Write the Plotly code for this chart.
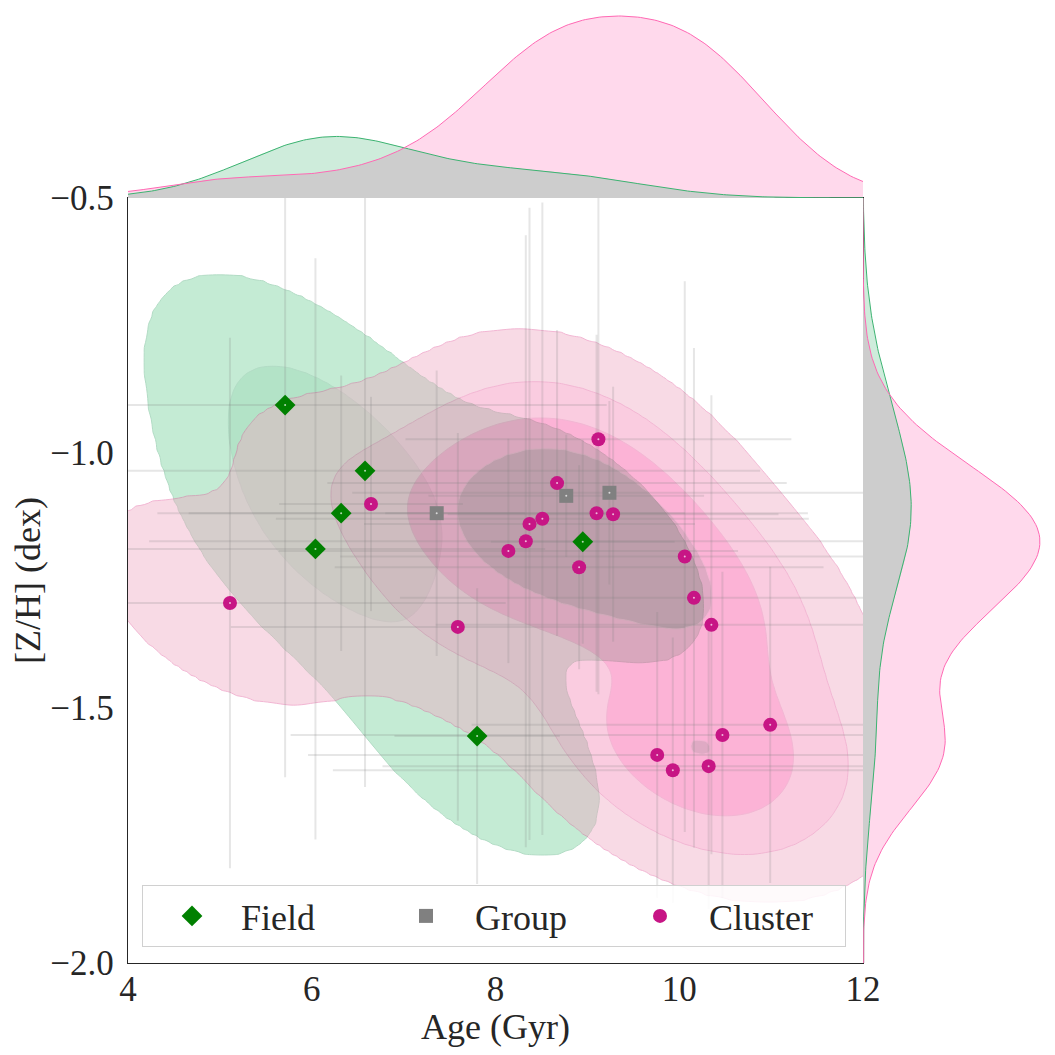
import numpy as np
import plotly.graph_objects as go

# ---------------- data ----------------
field_age = [5.71, 6.58, 6.32, 6.04, 8.95, 7.80]
field_zh = [-0.906, -1.035, -1.118, -1.188, -1.174, -1.555]
field_age_err = [3.5, 4.3, 2.0, 2.5, 1.0, 0.9]
field_zh_err = [0.73, 0.62, 0.27, 0.57, 0.20, 0.29]

group_age = [7.36, 8.77, 9.24]
group_zh = [-1.118, -1.084, -1.078]
group_age_err = [2.7, 1.5, 2.8]
group_zh_err = [0.28, 0.12, 0.18]

cluster_age = [5.11, 6.645, 7.59, 8.14, 8.33, 8.37, 8.51, 8.67, 8.91, 9.12,
               9.10, 9.28, 10.06, 10.16, 10.35, 9.76, 9.93, 10.32, 10.47, 10.99]
cluster_zh = [-1.294, -1.100, -1.341, -1.192, -1.173, -1.139, -1.129, -1.059, -1.224, -0.973,
              -1.118, -1.120, -1.203, -1.284, -1.337, -1.592, -1.622, -1.614, -1.553, -1.533]
cluster_age_err = [3.0, 1.0, 2.47, 2.5, 4.1, 1.8, 2.9, 2.5, 2.66, 2.1,
                   2.3, 1.8, 3.75, 3.2, 3.0, 3.8, 3.7, 3.55, 4.7, 3.25]
cluster_zh_err = [0.52, 0.21, 0.38, 0.22, 0.60, 0.62, 0.62, 0.30, 0.20, 0.50,
                  0.35, 0.25, 0.54, 0.49, 0.45, 0.28, 0.26, 0.28, 0.32, 0.31]

x_ticks = [4, 6, 8, 10, 12]
y_ticks = [-2.0, -1.5, -1.0, -0.5]

FONT = "Liberation Serif"
INK = "#262626"

# ---------------- KDE helpers ----------------
def kde2d(x, y, gx, gy, adjust=1.0):
    data = np.vstack([x, y])
    n = data.shape[1]
    f = n ** (-1.0 / 6) * adjust
    cov = np.cov(data) * f ** 2
    inv = np.linalg.inv(cov)
    norm = 1.0 / (2 * np.pi * np.sqrt(np.linalg.det(cov)) * n)
    X, Y = np.meshgrid(gx, gy)
    dx = X[..., None] - data[0]
    dy = Y[..., None] - data[1]
    q = inv[0, 0] * dx * dx + 2 * inv[0, 1] * dx * dy + inv[1, 1] * dy * dy
    return norm * np.exp(-0.5 * q).sum(-1)


def kde1d(x, g, adjust=1.0):
    x = np.asarray(x, float)
    n = len(x)
    bw = np.std(x, ddof=1) * n ** (-0.2) * adjust
    return np.exp(-0.5 * ((g[:, None] - x) / bw) ** 2).sum(1) / (n * bw * np.sqrt(2 * np.pi))


def quantile_to_level(arrs, isoprop):
    values = np.concatenate([a.ravel() for a in arrs])
    sv = np.sort(values)[::-1]
    nv = np.cumsum(sv) / values.sum()
    idx = np.searchsorted(nv, 1 - np.asarray(isoprop))
    return np.take(sv, idx, mode="clip")


n_f, n_c = len(field_age), len(cluster_age)
N = n_f + n_c
gx = np.linspace(2.0, 14.0, 260)
gy = np.linspace(-2.6, 0.0, 260)
dens_f = kde2d(field_age, field_zh, gx, gy) * n_f / N
dens_c = kde2d(cluster_age, cluster_zh, gx, gy) * n_c / N
levels = quantile_to_level([dens_f, dens_c], np.linspace(0.05, 1, 5))
top = max(dens_f.max(), dens_c.max()) * 1.001


def band_index(d):
    xp = np.concatenate([[0.0], levels[:-1], [top]])
    fp = np.arange(-1, len(levels))
    return np.interp(d, xp, fp)


nlev = len(levels) - 1
pink_bands = ["rgb(240,167,194)", "rgb(245,133,182)", "rgb(248,72,157)", "rgb(180,51,113)"]
green_bands = ["rgb(114,209,153)", "rgb(72,189,121)", "rgb(50,160,100)", "rgb(30,120,70)"]


def cscale(cols):
    cs = [[0.0, "rgba(255,255,255,0)"]]
    for i, c in enumerate(cols[:nlev]):
        cs.append([(i + 1) / nlev, c])
    return cs


fig = go.Figure()

for dens, cols, lc in [(dens_f, green_bands, "rgb(70,170,115)"),
                       (dens_c, pink_bands, "rgb(225,80,150)")]:
    fig.add_trace(go.Contour(
        x=gx, y=gy, z=band_index(dens), autocontour=False,
        contours=dict(start=0, end=nlev - 1, size=1, coloring="fill", showlines=True),
        line=dict(width=1, color=lc, smoothing=1),
        colorscale=cscale(cols), showscale=False, opacity=0.41,
        hoverinfo="skip", showlegend=False, xaxis="x", yaxis="y"))

# ---------------- error bars ----------------
eb = "rgba(128,128,128,0.2)"
for ax_, ay_, ex_, ey_ in [(field_age, field_zh, field_age_err, field_zh_err),
                           (group_age, group_zh, group_age_err, group_zh_err),
                           (cluster_age, cluster_zh, cluster_age_err, cluster_zh_err)]:
    fig.add_trace(go.Scatter(
        x=ax_, y=ay_, mode="markers", marker=dict(size=2, opacity=0),
        error_x=dict(type="data", array=ex_, color=eb, thickness=2, width=0),
        error_y=dict(type="data", array=ey_, color=eb, thickness=2, width=0),
        hoverinfo="skip", showlegend=False, xaxis="x", yaxis="y"))

# ---------------- markers ----------------
fig.add_trace(go.Scatter(x=field_age, y=field_zh, mode="markers", name="Field",
                         marker=dict(symbol="diamond", size=16, color="green"),
                         xaxis="x", yaxis="y"))
fig.add_trace(go.Scatter(x=group_age, y=group_zh, mode="markers", name="Group",
                         marker=dict(symbol="square", size=14, color="gray"),
                         xaxis="x", yaxis="y"))
fig.add_trace(go.Scatter(x=cluster_age, y=cluster_zh, mode="markers", name="Cluster",
                         marker=dict(symbol="circle", size=14, color="#c71585"),
                         xaxis="x", yaxis="y"))
# tiny light centre dots seen on every marker
fig.add_trace(go.Scatter(x=field_age + group_age + cluster_age,
                         y=field_zh + group_zh + cluster_zh, mode="markers",
                         marker=dict(size=2, color="rgba(255,255,255,0.7)"),
                         hoverinfo="skip", showlegend=False, xaxis="x", yaxis="y"))

# ---------------- marginals ----------------
mx = np.linspace(2.0, 14.0, 400)
my = np.linspace(-2.6, 0.0, 400)
tf = kde1d(field_age, mx) * n_f / N
tc = kde1d(cluster_age, mx) * n_c / N
rf = kde1d(field_zh, my) * n_f / N
rc = kde1d(cluster_zh, my) * n_c / N

g_fill, g_line = "rgba(60,179,113,0.25)", "rgb(60,179,113)"
p_fill, p_line = "rgba(255,105,180,0.25)", "rgb(255,105,180)"
ov_fill = "rgb(205,205,205)"

for yy, fc in [(tf, g_fill), (tc, p_fill), (np.minimum(tf, tc), ov_fill)]:
    fig.add_trace(go.Scatter(x=mx, y=yy, mode="none", fill="tozeroy", fillcolor=fc,
                             hoverinfo="skip", showlegend=False, xaxis="x2", yaxis="y2"))
for yy, lc in [(tf, g_line), (tc, p_line)]:
    fig.add_trace(go.Scatter(x=mx, y=yy, mode="lines", line=dict(color=lc, width=1),
                             hoverinfo="skip", showlegend=False, xaxis="x2", yaxis="y2"))
for xx, fc in [(rf, g_fill), (rc, p_fill), (np.minimum(rf, rc), ov_fill)]:
    fig.add_trace(go.Scatter(x=xx, y=my, mode="none", fill="tozerox", fillcolor=fc,
                             hoverinfo="skip", showlegend=False, xaxis="x3", yaxis="y3"))
for xx, lc in [(rf, g_line), (rc, p_line)]:
    fig.add_trace(go.Scatter(x=xx, y=my, mode="lines", line=dict(color=lc, width=1),
                             hoverinfo="skip", showlegend=False, xaxis="x3", yaxis="y3"))

top_max = max(tf.max(), tc.max())
right_max = max(rf.max(), rc.max())

# ---------------- layout (page adds an 8px body margin) ----------------
W = H = 1039
ML, MB = 120, 84
pw, ph = W - ML, H - MB
X0, X1 = 120, 855          # main axes, figure px
Y0, Y1 = 190, 955
xd_main = (X1 - ML) / pw
yd_main = (ph - Y0) / ph

fig.update_layout(
    width=W, height=H, autosize=False,
    margin=dict(l=ML, r=0, t=0, b=MB, pad=0, autoexpand=False),
    paper_bgcolor="white", plot_bgcolor="rgba(0,0,0,0)",
    font=dict(family=FONT, color=INK, size=35),
    xaxis=dict(domain=[0, xd_main], range=[4, 12], tickvals=x_ticks, ticks="",
               showgrid=False, zeroline=False, showline=True, mirror=True,
               linecolor=INK, linewidth=1.3, tickfont=dict(size=35),
               ticklabelstandoff=-5, automargin=False,
               title=dict(text="Age (Gyr)", font=dict(size=36), standoff=10)),
    yaxis=dict(domain=[0, yd_main], range=[-2.0, -0.5], tickvals=y_ticks, tickformat=".1f",
               ticks="", showgrid=False, zeroline=False, showline=True, mirror=True,
               linecolor=INK, linewidth=1.3, tickfont=dict(size=35),
               ticklabelstandoff=6, automargin=False,
               title=dict(text="[Z/H] (dex)", font=dict(size=36), standoff=2)),
    xaxis2=dict(domain=[0, xd_main], matches="x", visible=False, anchor="y2",
                automargin=False),
    yaxis2=dict(domain=[yd_main, (ph - 1) / ph], range=[0, top_max * 1.0385],
                visible=False, anchor="x2", automargin=False),
    xaxis3=dict(domain=[xd_main, 1.0], range=[0, right_max * 1.04],
                visible=False, anchor="y3", automargin=False),
    yaxis3=dict(domain=[0, yd_main], matches="y", visible=False, anchor="x3",
                automargin=False),
    legend=dict(orientation="h", x=(134 - ML) / pw, xanchor="left",
                y=(ph - 939) / ph, yanchor="bottom",
                bgcolor="rgba(255,255,255,0.85)", bordercolor="#d0d0d0", borderwidth=1,
                font=dict(size=36, family=FONT, color=INK),
                itemwidth=88, entrywidth=131, entrywidthmode="pixels"),
)

fig.write_html("out.html")
